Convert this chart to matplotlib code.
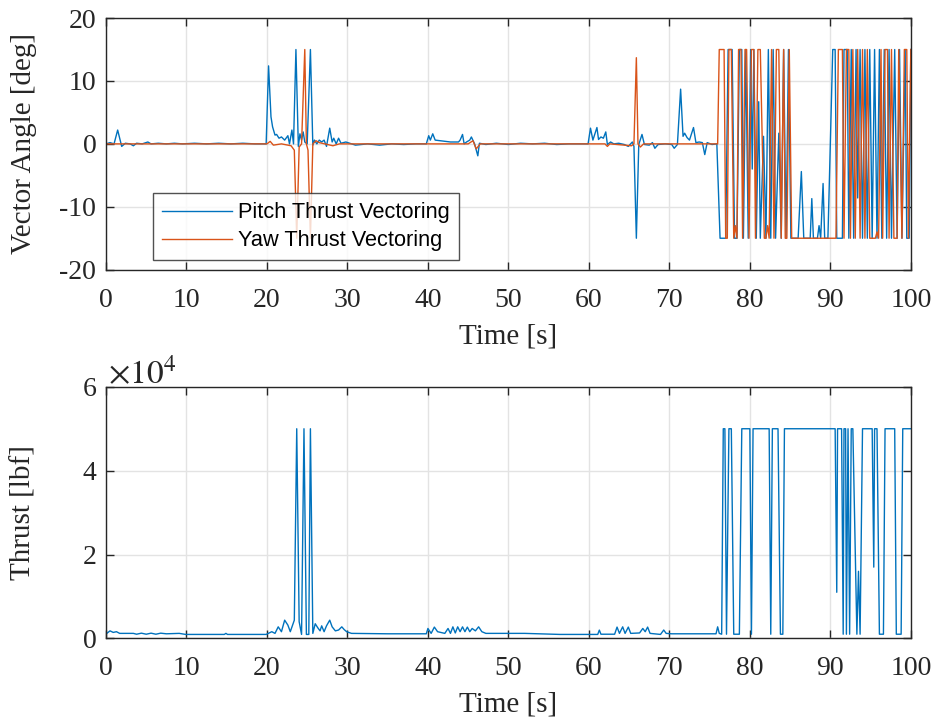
import matplotlib
matplotlib.use("Agg")
import matplotlib.pyplot as plt
from matplotlib.ticker import FixedLocator, FuncFormatter

# ---- data ----
# pitch thrust vectoring [deg]
pitch_t = [0, 0.5, 1.0, 1.45, 1.95, 2.4, 3.0, 3.4, 3.8, 4.5, 5.2, 5.6, 6.5, 7.5, 8.5, 9.5, 11, 12.5, 14, 15.5, 17, 18.5, 19.9,
           20.2, 20.5, 20.7, 21.0, 21.2, 21.5, 21.8, 22.2, 22.6, 22.8, 23.1, 23.3, 23.6, 23.9, 24.1, 24.3, 24.5, 24.7, 25.0,
           25.4, 25.7, 25.9, 26.2, 26.5, 26.8, 27.1, 27.4, 27.8, 28.1, 28.3, 28.6, 28.9, 29.2, 29.8,
           31, 32.5, 34, 35.5, 37, 38.5, 39.8, 40.1, 40.3, 40.6, 40.9, 41.5, 42.8, 43.8, 44.0, 44.3, 44.5, 44.8, 45.2, 45.4,
           45.8, 46.2, 46.4, 47.2, 48.5, 50, 51.5, 53, 54.5, 56, 57.5, 59, 59.9,
           60.2, 60.5, 61.0, 61.2, 61.5, 61.8, 62.1, 62.3, 62.7, 63.1, 63.7, 64.4, 64.9, 65.4, 65.6, 65.9, 66.2, 66.6, 66.9,
           67.5, 67.9, 68.2, 68.6, 69.5, 70.3, 70.6, 71.0, 71.4, 71.7, 71.9, 72.2, 72.5, 73.0, 73.3, 73.7, 74.1, 74.4, 74.7,
           75.3, 75.9,
           76.3, 77.0, 77.3, 77.8, 78.1, 78.4, 78.7, 79.0, 79.2, 79.5, 79.8, 80.1, 80.3, 80.5, 80.8, 81.1, 81.3, 81.7, 82.0,
           82.3, 82.6, 82.9, 83.2, 83.6, 83.9, 84.2, 84.5, 84.8, 85.1, 86.0, 86.4, 86.7, 87.5, 87.7, 87.9, 88.4, 88.6, 88.8,
           89.1, 89.3, 89.7, 90.3, 90.6, 90.8, 91.5, 91.7, 92.1, 92.3, 92.6, 92.9, 93.2, 93.4, 93.7, 94.0, 94.3, 94.6, 94.9,
           95.2, 95.5, 95.8, 96.1, 96.4, 96.7, 97.0, 97.3, 97.6, 98.0, 98.3, 98.6, 98.9, 99.3, 99.5, 99.8, 100]
pitch_v = [0, 0.2, 0, 2.2, -0.4, 0.1, 0, -0.3, 0.1, 0, 0.3, 0, 0.1, 0, 0.1, 0, 0.1, 0, 0.1, 0, 0.1, 0, 0,
           12.4, 4.3, 2.7, 1.4, 1.5, 0.9, 1.1, 0.6, 1.3, 0, 2.2, 0, 15, -0.4, 1.6, 0.6, 1.9, 0.3, 0,
           15, -0.2, 0.6, 0, 0.6, 0.3, 0.6, -0.4, 2.5, 0.3, 0.9, 0, 0.9, 0.1, 0.3,
           -0.2, 0, -0.2, 0, -0.1, 0, 0, 1.3, 0.6, 1.6, 0.6, 0.5, 0.3, 0.3, 0.6, 1.5, 0, 0.3, 0.6, 1.1,
           0, -1.9, 0.1, -0.1, 0.1, -0.1, 0.1, 0, 0.1, -0.1, 0, 0, 0,
           2.5, 0.6, 2.6, 0.7, 1.1, 0.9, 1.9, -0.1, 0.3, 0, 0.1, -0.1, -0.4, 0.3, -0.4, -15, -0.1, 1.5, -0.1,
           -0.2, 0.2, -0.7, -0.1, 0, -0.1, -0.7, -0.1, 8.7, 1.2, 1.7, 1.0, 0.6, 2.6, 0.2, 0.3, 0.2, -1.7, 0.2,
           -0.1, 0,
           -15, -15, 15, 15, -15, -15, 15, 15, -15, 15, -15, 15, -4, 15, -15, 6.7, -15, 1.2, -15,
           15, -15, 15, -15, 1.7, -15, 15, -15, 15, -15, -15, -4.4, -15, -15, -8.7, -15, -15, -13, -15,
           -6.3, -15, -15, 15, 15, -15, -15, 15, 15, -15, 15, -15, 15, -8.6, 15, -15, 15, -15, 15,
           -15, 15, -15, 15, -15, 15, -15, 15, -15, 15, -15, 15, -15, 15, -15, -15, 15]

# yaw thrust vectoring [deg]
yaw_t = [0, 20.0, 20.4, 20.8, 21.8, 23.0, 23.4, 23.7, 24.0, 24.3, 24.7, 24.9, 25.1, 25.4, 25.7, 26.1, 26.5, 28.2, 29,
         45.0, 45.6, 46.0, 46.5, 62.0, 62.3, 62.6, 65.3, 65.6, 65.9, 66.1, 66.4, 66.8, 76.0,
         76.2, 76.8, 77.0, 77.2, 77.4, 77.7, 78.0, 78.2, 78.4, 78.6, 78.9, 79.1, 79.4, 79.6, 79.9, 80.2, 80.5, 80.7,
         81.0, 81.3, 81.8, 82.0, 82.2, 82.4, 82.7, 83.0, 83.3, 83.6, 83.9, 84.2, 84.4, 84.6, 84.9, 85.2, 90.7, 91.0,
         91.5, 91.7, 92.0, 92.3, 92.5, 92.8, 93.1, 93.4, 93.7, 94.0, 94.3, 94.6, 94.9, 95.6, 95.8, 96.0, 96.3, 96.5,
         96.8, 97.1, 97.3, 97.6, 97.9, 98.3, 98.5, 98.9, 99.2, 99.5, 99.7, 100]
yaw_v = [0, 0, 0.4, -0.2, 0, -0.3, -1, -15, -0.5, 0, 15, 0, -1, -15, 0, 0.5, 0.2, -0.3, 0,
         0, 0.5, -0.8, 0, 0, -0.4, 0, -0.3, 0, 13.7, 0, -0.5, 0, 0,
         15, 15, -15, -15, 15, 15, -15, -13, -15, 15, 15, -15, 15, 15, -15, 15, 15, -15,
         15, 15, -15, -15, -13, -15, 15, -15, 15, 15, -15, 15, -15, -15, 15, -15, -15, 15,
         15, -15, 15, 15, -15, 15, -15, 15, -15, 15, -15, 15, -15, -15, -14, -15, 15, -15,
         15, 15, -15, 15, -15, -15, 15, -15, 15, 15, -15, 15]

# thrust [lbf]
thrust_t = [0, 0.1, 0.5, 0.9, 1.3, 1.7, 3.4, 3.8, 4.4, 5.0, 5.6, 6.2, 6.8, 7.5, 9.1, 9.9, 14.7, 14.9, 15.1, 19.9,
            20.6, 21.0, 21.4, 21.8, 22.2, 22.6, 22.9, 23.4, 23.7, 24.0, 24.3, 24.6, 24.9, 25.2, 25.4, 25.7, 26.0,
            26.3, 26.6, 26.8, 27.1, 27.4, 27.8, 28.1, 28.5, 28.9, 29.3, 29.6, 29.9, 30.5, 35, 39.8,
            40.0, 40.4, 40.8, 41.2, 42.1, 42.5, 42.8, 43.1, 43.4, 43.7, 44.0, 44.3, 44.6, 44.9, 45.2, 45.5, 45.9,
            46.3, 46.7, 47.2, 52, 56.4, 61.1, 61.3, 61.5, 63.2, 63.5, 63.8, 64.2, 64.5, 64.9, 65.2, 66.3, 66.7,
            67.0, 67.3, 67.6, 68.9, 69.3, 69.6, 70.3, 75.8, 76.0, 76.2, 76.5,
            76.7, 76.9, 77.1, 77.4, 77.7, 78.0, 78.7, 79.0, 80.0, 80.2, 80.4, 82.4, 82.6, 82.8, 83.5, 83.8, 84.1,
            84.3, 90.6, 90.8, 90.9, 91.4, 91.6, 91.7, 91.9, 92.0, 92.2, 92.4, 92.6, 92.8, 93.3, 93.5, 93.7, 94.0,
            95.2, 95.4, 95.5, 95.8, 96.1, 96.6, 96.8, 98.0, 98.2, 98.8, 99.0, 100]
thrust_v = [1200, 1200, 1800, 1430, 1600, 1200, 1200, 1000, 1250, 1000, 1250, 1000, 1250, 1100, 1200, 950, 950, 1200,
            950, 950,
            1600, 1200, 2760, 1600, 4350, 3170, 1600, 4350, 50000, 4000, 950, 50000, 950, 950, 50000, 1200, 3500,
            2580, 1800, 3000, 1600, 3000, 4350, 2760, 1800, 2000, 2760, 2100, 1600, 1200, 1100, 1100,
            2370, 1200, 2700, 1600, 1200, 2370, 1200, 2760, 1300, 2760, 1600, 2760, 1600, 2700, 1600, 2370, 1800,
            2760, 1600, 1200, 1200, 950, 950, 1980, 1000, 1000, 2700, 1200, 2760, 1200, 2700, 1200, 1300, 2370,
            1600, 2700, 1200, 950, 2000, 1200, 1100, 1100, 2760, 1200, 1000,
            50000, 50000, 1000, 50000, 50000, 1000, 1000, 50000, 50000, 1000, 50000, 50000, 1000, 50000, 50000,
            1000, 1000,
            50000, 50000, 11000, 50000, 50000, 1000, 50000, 50000, 1000, 50000, 1000, 50000, 50000, 1000, 16000,
            1000, 50000,
            50000, 17000, 50000, 50000, 1000, 1000, 50000, 50000, 1000, 1000, 50000, 50000]

blue = "#0072BD"
orange = "#D95319"
dark = "#262626"

plt.rcParams["font.family"] = "Liberation Serif"
plt.rcParams["mathtext.fontset"] = "stix"
plt.rcParams["axes.unicode_minus"] = False

fig = plt.figure(figsize=(9.38, 7.23), dpi=100)
ax1 = fig.add_axes([0.113, 0.627, 0.858, 0.348])
ax2 = fig.add_axes([0.113, 0.117, 0.858, 0.348])

ax1.plot(pitch_t, pitch_v, color=blue, lw=1.0, label="Pitch Thrust Vectoring")
ax1.plot(yaw_t, yaw_v, color=orange, lw=1.0, label="Yaw Thrust Vectoring")
ax2.plot(thrust_t, thrust_v, color=blue, lw=1.0)

for ax in (ax1, ax2):
    ax.set_xlim(0, 100)
    ax.xaxis.set_major_locator(FixedLocator(range(0, 101, 10)))
    ax.grid(True, color="#e3e3e3", lw=1.0)
    ax.set_axisbelow(True)
    ax.tick_params(direction="in", length=6, width=1.0, top=True, right=True,
                   labelsize=20, colors=dark)
    ax.tick_params(axis="x", pad=13)
    ax.tick_params(axis="y", pad=7)
    for s in ax.spines.values():
        s.set_color(dark)
        s.set_linewidth(1.0)
    ax.set_xlabel("Time [s]", fontsize=21, color=dark)

ax1.xaxis.set_label_coords(0.5, -0.215)
ax2.xaxis.set_label_coords(0.5, -0.21)

ax1.set_ylim(-20, 20)
ax1.yaxis.set_major_locator(FixedLocator([-20, -10, 0, 10, 20]))
ax1.set_ylabel("Vector Angle [deg]", fontsize=21, color=dark)
ax1.yaxis.set_label_coords(-0.086, 0.5)

ax2.set_ylim(0, 60000)
ax2.yaxis.set_major_locator(FixedLocator([0, 20000, 40000, 60000]))
ax2.yaxis.set_major_formatter(FuncFormatter(lambda v, p: "%d" % round(v / 10000)))
ax2.set_ylabel("Thrust [lbf]", fontsize=21, color=dark)
ax2.yaxis.set_label_coords(-0.086, 0.5)
ax2.text(0.002, 0.985, r"$\times10^{4}$", transform=ax2.transAxes, fontsize=24,
         color=dark, ha="left", va="bottom")

leg = ax1.legend(loc="lower left", bbox_to_anchor=(0.058, 0.037), borderaxespad=0,
                 prop={"family": "Liberation Sans", "size": 15.7}, frameon=True, fancybox=False,
                 handlelength=3.2, handletextpad=0.3, labelspacing=0.32, borderpad=0.42)
leg.get_frame().set_edgecolor(dark)
leg.get_frame().set_linewidth(1.0)

plt.savefig("out.png", dpi=100)
